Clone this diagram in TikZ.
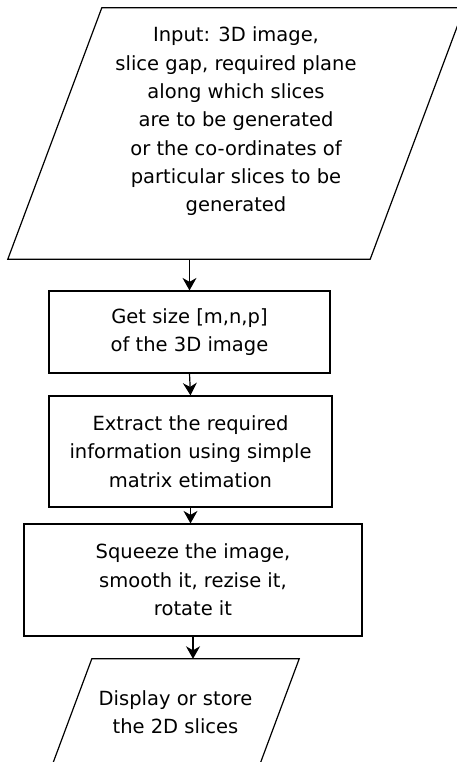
\documentclass[tikz,border=0pt]{standalone}
\usepackage{fontspec}
\setmainfont{DejaVu Sans}
\usetikzlibrary{arrows.meta}
% slanted outline round an io node: #1 node name, #2 half the slant
\newcommand\ioframe[2]{\draw[line width=1.2pt] ([xshift=#2]#1.north west) -- ([xshift=#2]#1.north east)
  -- ([xshift=-#2]#1.south east) -- ([xshift=-#2]#1.south west) -- cycle;}
\begin{document}
\begin{tikzpicture}[x=1pt,y=-1pt,>={Stealth[length=12.5pt,width=14pt,inset=4pt]},
    box/.style={draw,line width=1.2pt,rectangle,align=center},
    io/.style={rectangle,align=center,inner sep=0pt},
    every node/.style={font=\fontsize{19.5}{28.3}\selectfont}]
\useasboundingbox (0,0) rectangle (457,762);
\node[io,minimum width=362pt,minimum height=251pt] (in) at (236,133.5){Input: 3D image,\\slice gap, required plane\\along which slices\\are to be generated\\or the co-ordinates of\\particular slices to be\\generated\\\mbox{}};
\ioframe{in}{47pt}
\node[box,minimum width=281pt,minimum height=82pt] (size) at (189.5,332){Get size [m,n,p]\\of the 3D image};
\node[box,minimum width=283pt,minimum height=111pt] (extract) at (190.5,451.5){Extract the required\\information using simple\\matrix etimation};
\node[box,minimum width=338pt,minimum height=112pt] (squeeze) at (193,580){Squeeze the image,\\smooth it, rezise it,\\rotate it};
\node[io,minimum width=207pt,minimum height=107pt] (out) at (175.5,712.5){Display or store\\the 2D slices};
\ioframe{out}{20pt}
\draw[->,line width=1.2pt] (size.north |- in.south) -- (size.north);
\draw[->,line width=1.2pt] (size.south) -- (extract.north);
\draw[->,line width=1.2pt] (extract.south) -- (extract.south |- squeeze.north);
\draw[->,line width=1.2pt] (squeeze.south) -- (squeeze.south |- out.north);
\end{tikzpicture}
\end{document}
